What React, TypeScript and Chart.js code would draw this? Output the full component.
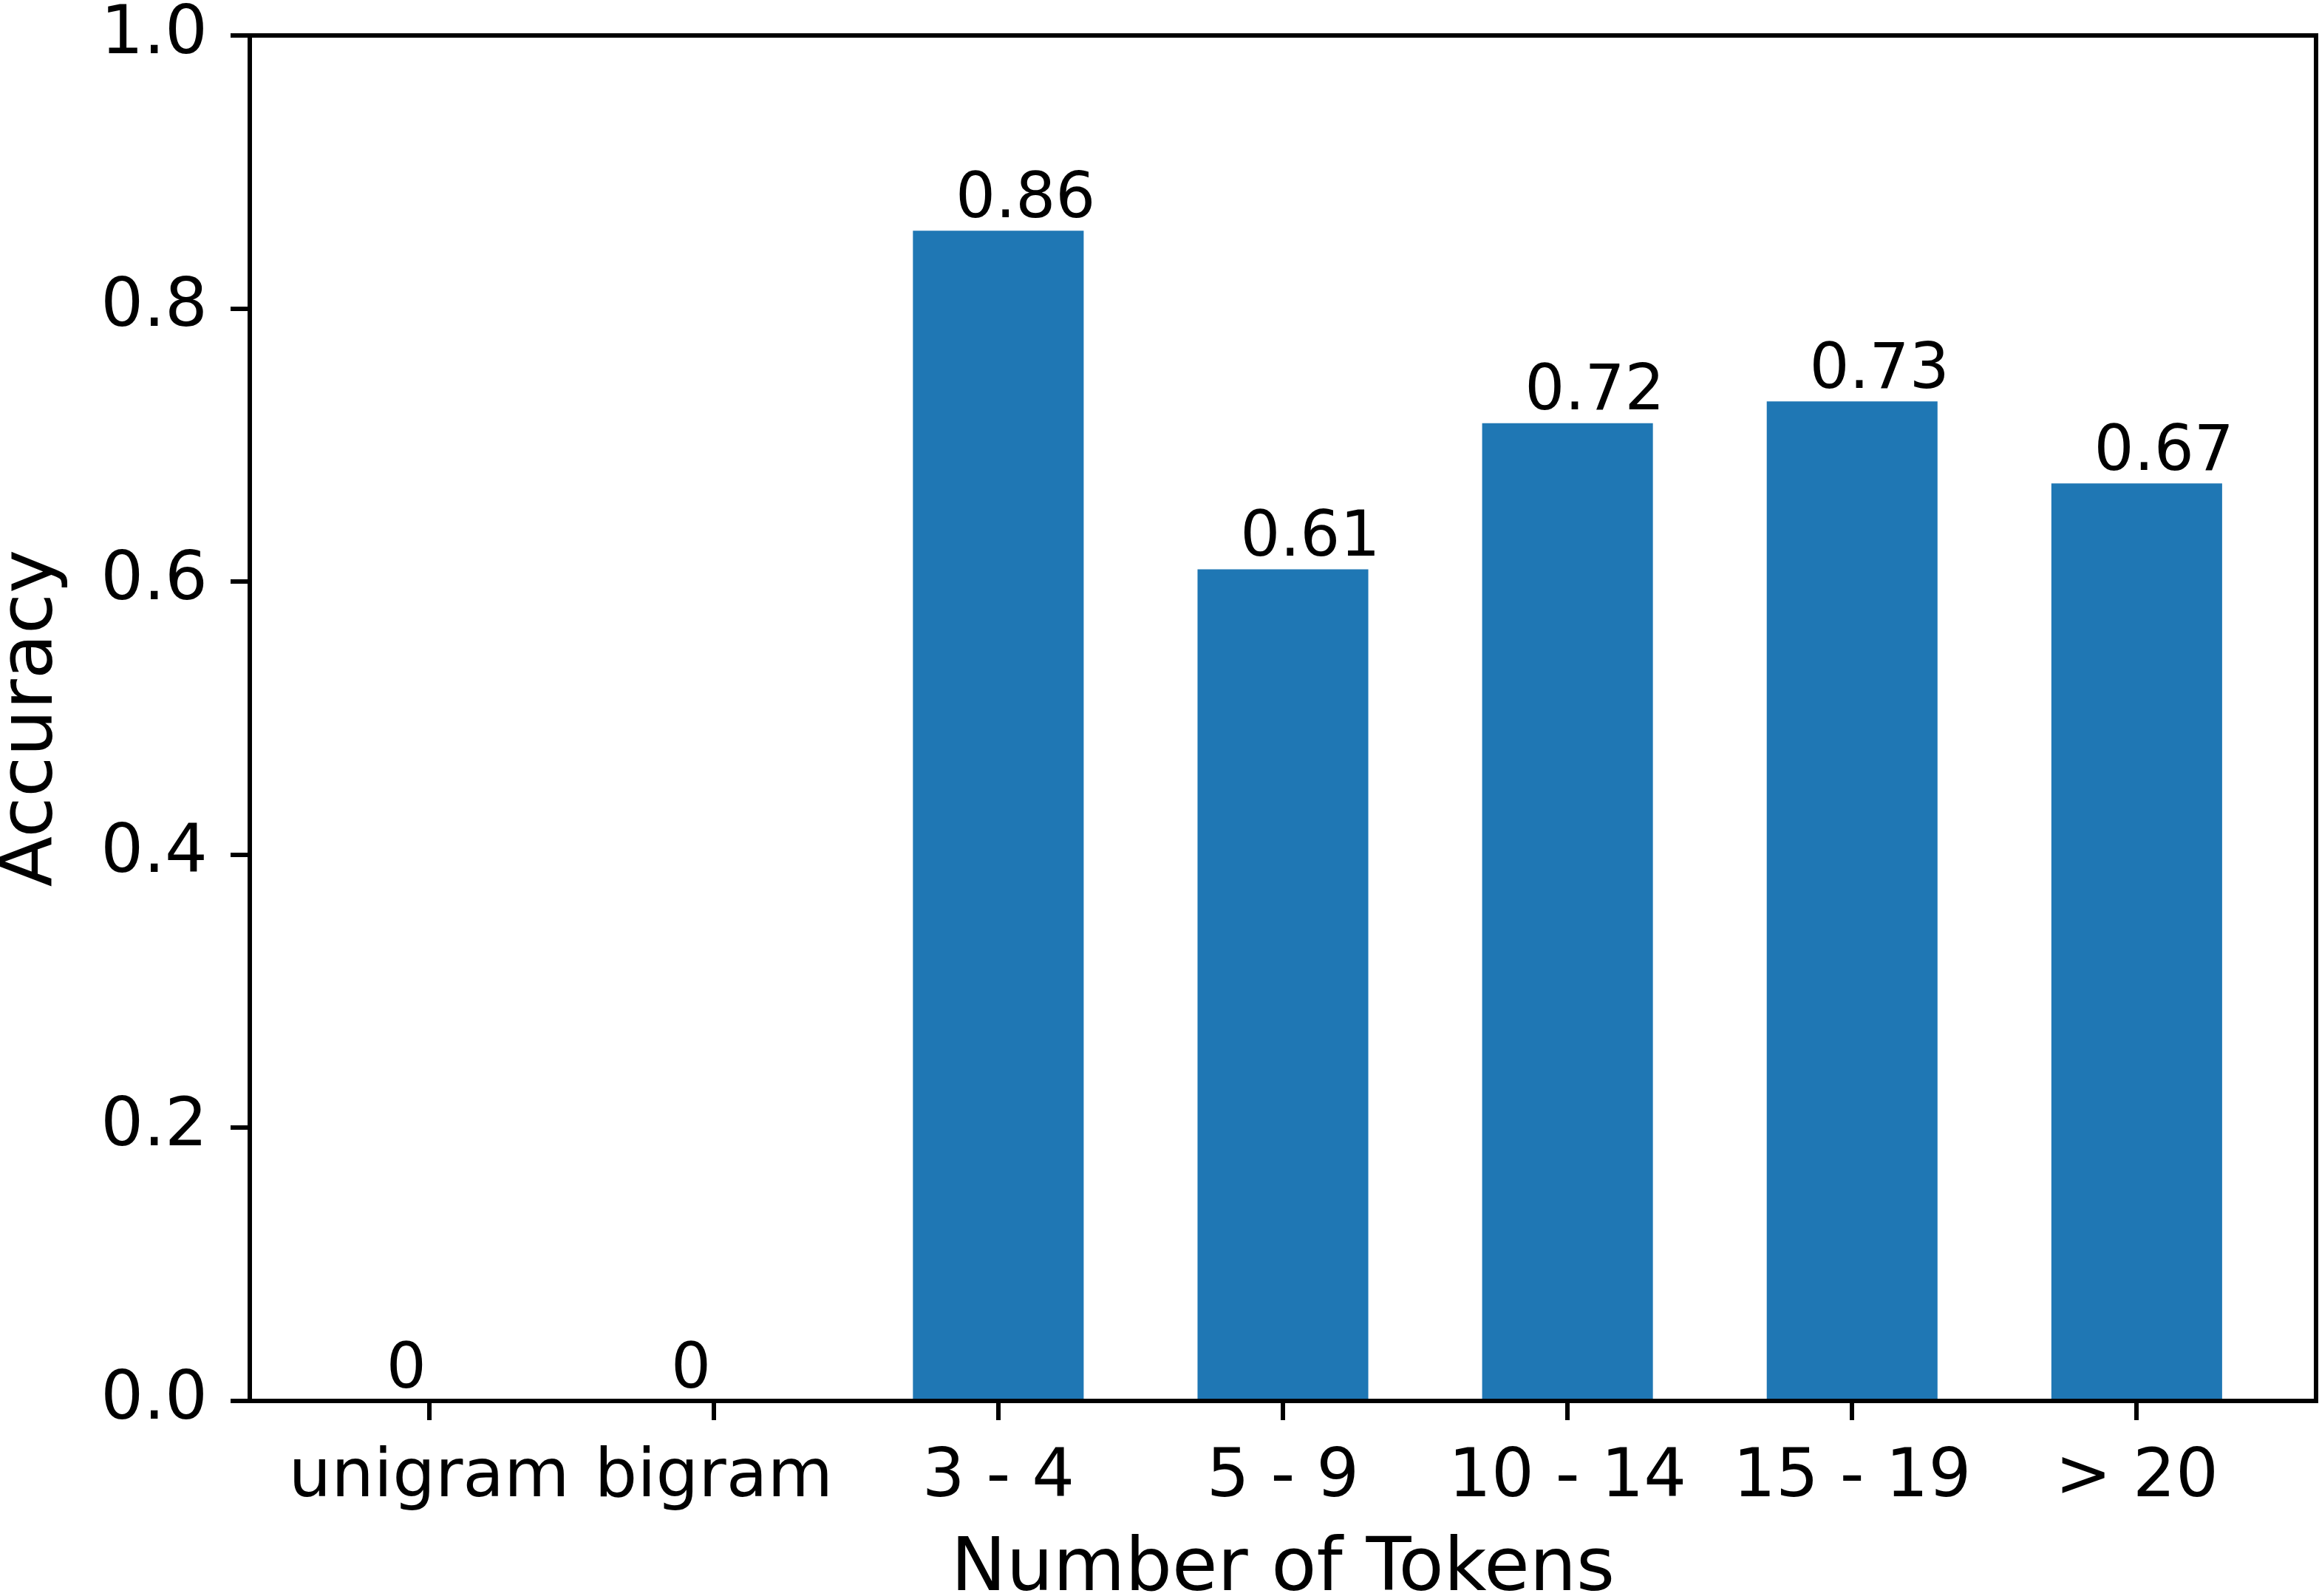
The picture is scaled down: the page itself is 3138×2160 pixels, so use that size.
import { useEffect, useRef } from "react";
import { Chart, registerables } from "chart.js";

Chart.register(...registerables);

const categories = ["unigram", "bigram", "3 - 4", "5 - 9", "10 - 14", "15 - 19", "> 20"];
const accuracy = [0, 0, 0.857, 0.609, 0.716, 0.732, 0.672];
const yTicks = [0, 0.2, 0.4, 0.6, 0.8, 1.0];

const W = 3138;
const H = 2160;
const FONT = "'DejaVu Sans', sans-serif";

// value labels above bars + the four spines, drawn on top of the bars
const frame = {
  id: "frame",
  afterDatasetsDraw(chart: any) {
    const { ctx, chartArea: a, scales } = chart;
    ctx.save();
    ctx.fillStyle = "#000";
    ctx.font = `85px ${FONT}`;
    ctx.textAlign = "left";
    ctx.textBaseline = "alphabetic";
    accuracy.forEach((v, i) => {
      const text = v === 0 ? "0" : v.toFixed(2);
      ctx.fillText(text, scales.x.getPixelForValue(i - 0.15), scales.y.getPixelForValue(v + 0.01));
    });
    ctx.strokeStyle = "#000";
    ctx.lineWidth = 6;
    ctx.strokeRect(a.left, a.top, a.right - a.left, a.bottom - a.top);
    ctx.restore();
  },
};

export default function App() {
  const ref = useRef<HTMLCanvasElement | null>(null);

  useEffect(() => {
    document.body.style.margin = "0";
    document.body.style.overflow = "hidden";
    if (!ref.current) return;

    const tickGrid = {
      offset: false,
      drawOnChartArea: false,
      drawTicks: true,
      tickLength: 26,
      tickWidth: 6,
      tickColor: "#000",
      color: "#000",
      lineWidth: 6,
    };

    const chart = new Chart(ref.current, {
      type: "bar",
      data: {
        datasets: [
          {
            label: "Accuracy",
            data: accuracy.map((v, i) => ({ x: i, y: v })),
            backgroundColor: "#1f77b4",
            borderWidth: 0,
            categoryPercentage: 1,
            barPercentage: 0.6,
          },
        ],
      },
      options: {
        responsive: false,
        animation: false,
        devicePixelRatio: 1,
        layout: { padding: { top: 48, right: 4, left: 0, bottom: 0 } },
        plugins: {
          legend: { display: false },
          tooltip: { enabled: false },
        },
        scales: {
          x: {
            type: "linear",
            min: -0.63,
            max: 6.63,
            offset: false,
            afterBuildTicks: (s: any) => {
              s.ticks = categories.map((_, i) => ({ value: i }));
            },
            afterFit: (s: any) => {
              s.height = 264;
              s.paddingLeft = 0;
              s.paddingRight = 0;
            },
            grid: tickGrid,
            border: { display: false },
            ticks: {
              color: "#000",
              font: { family: FONT, size: 91 },
              padding: 25,
              maxRotation: 0,
              autoSkip: false,
              callback: (v: any) => categories[Math.round(Number(v))] ?? "",
            },
            title: {
              display: true,
              text: "Number of Tokens",
              color: "#000",
              font: { family: FONT, size: 100, lineHeight: 0.68 },
              padding: 0,
            },
          },
          y: {
            min: 0,
            max: 1,
            afterBuildTicks: (s: any) => {
              s.ticks = yTicks.map((v) => ({ value: v }));
            },
            afterFit: (s: any) => {
              s.width = 338;
              s.paddingTop = 0;
              s.paddingBottom = 0;
            },
            grid: tickGrid,
            border: { display: false },
            ticks: {
              color: "#000",
              font: { family: FONT, size: 91 },
              padding: 31,
              callback: (v: any) => Number(v).toFixed(1),
            },
            title: {
              display: true,
              text: "Accuracy",
              color: "#000",
              font: { family: FONT, size: 100, lineHeight: 0.88 },
              padding: 0,
            },
          },
        },
      },
      plugins: [frame],
    });
    return () => chart.destroy();
  }, []);

  return <canvas ref={ref} width={W} height={H} style={{ display: "block" }}></canvas>;
}
